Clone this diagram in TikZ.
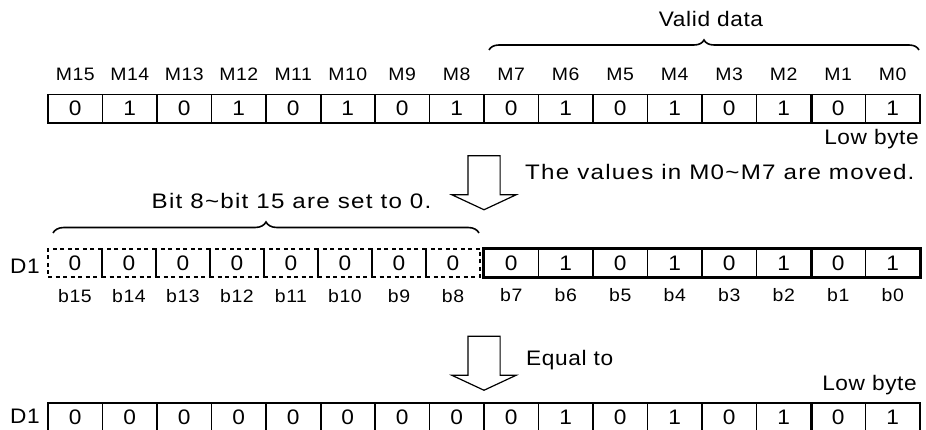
\documentclass[tikz,border=0pt]{standalone}
\usepackage{fontspec}
\setmainfont{Liberation Sans}[FakeStretch=1.08, LetterSpace=3]
\newfontfamily\widefont{Liberation Sans}[FakeStretch=1.15, LetterSpace=6]
\usetikzlibrary{positioning,decorations.pathreplacing,shapes.arrows}

\begin{document}
\begin{tikzpicture}[x=1pt,y=-1pt,
cell/.style={draw, line width=1.3pt, minimum width=54.5pt, minimum height=28pt, inner sep=0pt, font=\fontsize{21}{24}\selectfont},
dcell/.style={cell, dash pattern=on 4pt off 3.5pt, minimum width=54pt, line width=1.6pt},
bitlbl/.style={inner sep=0pt, font=\fontsize{18}{20}\selectfont},
txt/.style={inner sep=0pt, font=\fontsize{21}{24}\selectfont},
note/.style={inner sep=0pt, font=\widefont\fontsize{21}{24}\selectfont},
frame/.style={line width=2.6pt},
brc/.style={decorate, decoration={brace, amplitude=10pt}, line width=1.6pt},
bigarrow/.style={draw, line width=1.2pt, single arrow, shape border rotate=270, minimum height=54pt, minimum width=63pt, single arrow head extend=16pt, single arrow tip angle=130, inner sep=15.5pt}
]
\useasboundingbox (0,0) rectangle (926,430);

% source word M15..M0
\foreach \b/\v in {15/0,14/1,13/0,12/1,11/0,10/1,9/0,8/1,7/0,6/1,5/0,4/1,3/0,2/1,1/0,0/1}{
  \node[cell] (src\b) at ({75.25+54.5*(15-\b)},108.5) {\v};
  \node[bitlbl, above=13pt of src\b] (msrc\b) {M\b};
}
\draw[frame] (src15.south west) -- (src0.south east);
\draw[line width=2.2pt] (src11.north east) -- (src11.south east);
\draw[line width=2.2pt] (src2.north east) -- (src2.south east);

\coordinate (vd1) at (489,50);
\coordinate (vd2) at (919,50);
\draw[brc] (vd1) -- (vd2);
\node[txt, anchor=base] (valid) at (711,26.5) {Valid data};
\node[txt, anchor=base east] (low1) at (919,145) {Low byte};

\node[bigarrow] (mv1) at (484,179) {};
\node[note, anchor=base west] (moved) at (525,180) {The values in M0\textasciitilde M7 are moved.};

% D1 after moving
\foreach \b in {15,...,8}
  \node[dcell] (dst\b) at ({75+54*(15-\b)},263) {0};
\foreach \b/\v in {7/0,6/1,5/0,4/1,3/0,2/1,1/0,0/1}
  \node[cell] (dst\b) at ({511.25+54.5*(7-\b)},263) {\v};
\foreach \b in {15,...,0}
  \node[bitlbl, below=11pt of dst\b] (bdst\b) {b\b};
\draw[frame] (dst7.north west) rectangle (dst0.south east);
\draw[line width=2.2pt] (dst2.north east) -- (dst2.south east);

\coordinate (hb1) at (53,233);
\coordinate (hb2) at (479,233);
\draw[brc, decoration={amplitude=11pt}] (hb1) -- (hb2);
\node[note, anchor=base] (bits) at (291.5,209) {Bit 8\textasciitilde bit 15 are set to 0.};
\node[txt, anchor=base west] (d1a) at (10,273) {D1};

\node[bigarrow] (mv2) at (484,359.5) {};
\node[txt, anchor=base west] (equal) at (526,365) {Equal to};
\node[txt, anchor=base east] (low2) at (917,390) {Low byte};

% resulting D1
\foreach \b/\v in {15/0,14/0,13/0,12/0,11/0,10/0,9/0,8/0,7/0,6/1,5/0,4/1,3/0,2/1,1/0,0/1}
  \node[cell] (res\b) at ({75.25+54.5*(15-\b)},417) {\v};
\draw[line width=2.2pt] (res11.north east) -- (res11.south east);
\draw[line width=2.2pt] (res2.north east) -- (res2.south east);
\node[txt, anchor=base west] (d1b) at (10,423) {D1};
\end{tikzpicture}
\end{document}
